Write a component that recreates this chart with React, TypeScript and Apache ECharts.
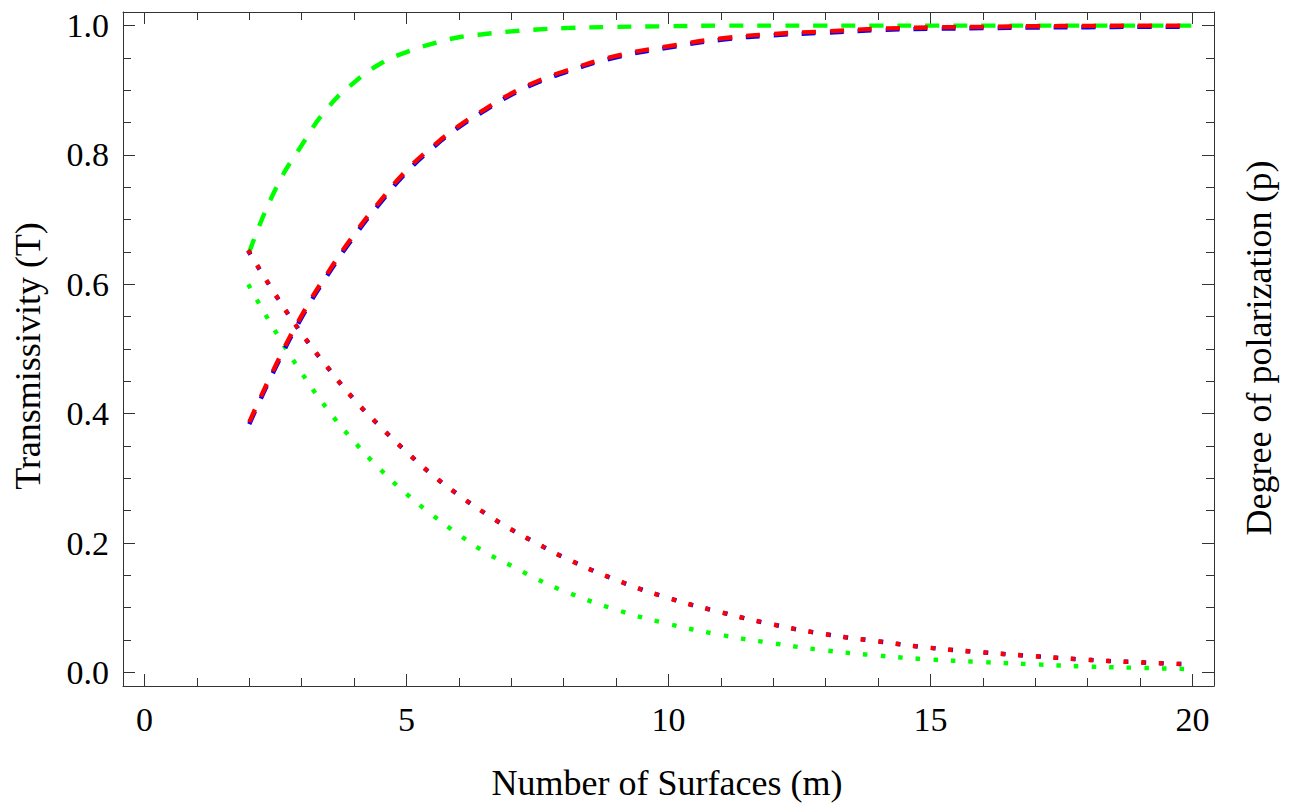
import React, { useEffect, useRef } from 'react';
import * as echarts from 'echarts';

// Number of surfaces m (x values)
const mValues = [2, 2.5, 3, 3.5, 4, 4.5, 5, 5.5, 6, 6.5, 7, 7.5, 8, 9, 10, 11, 12, 13, 14, 15, 16, 17, 18, 19, 20];

// Degree of polarization (dashed curves)
const greenP = [0.650, 0.747, 0.815, 0.873, 0.912, 0.941, 0.959, 0.972, 0.982, 0.987, 0.991, 0.994, 0.996, 0.998, 0.999, 1.0, 1.0, 1.0, 1.0, 1.0, 1.0, 1.0, 1.0, 1.0, 1.0];
const blueP = [0.384, 0.471, 0.549, 0.615, 0.674, 0.726, 0.773, 0.811, 0.843, 0.869, 0.893, 0.912, 0.927, 0.951, 0.966, 0.978, 0.985, 0.989, 0.993, 0.995, 0.996, 0.997, 0.9975, 0.998, 0.998];
const redP = [0.387, 0.474, 0.552, 0.618, 0.677, 0.729, 0.776, 0.813, 0.845, 0.871, 0.895, 0.914, 0.929, 0.953, 0.968, 0.980, 0.987, 0.991, 0.995, 0.997, 0.998, 0.999, 0.9995, 1.0, 1.0];

// Transmissivity (dotted curves)
const greenT = [0.597, 0.527, 0.463, 0.406, 0.357, 0.314, 0.276, 0.243, 0.213, 0.186, 0.165, 0.144, 0.126, 0.097, 0.075, 0.058, 0.045, 0.034, 0.026, 0.020, 0.016, 0.0124, 0.009, 0.007, 0.005];
const blueT = [0.649, 0.584, 0.524, 0.471, 0.422, 0.380, 0.341, 0.305, 0.274, 0.246, 0.221, 0.199, 0.178, 0.143, 0.115, 0.093, 0.074, 0.059, 0.048, 0.038, 0.031, 0.025, 0.0195, 0.0155, 0.0124];
const redT = [0.650, 0.584, 0.524, 0.471, 0.422, 0.380, 0.341, 0.305, 0.274, 0.246, 0.221, 0.199, 0.178, 0.143, 0.115, 0.093, 0.074, 0.059, 0.048, 0.038, 0.031, 0.025, 0.0195, 0.0155, 0.0124];

// Ticks
const xMajorTicks = [0, 5, 10, 15, 20];
const xMinorTicks = [1, 2, 3, 4, 6, 7, 8, 9, 11, 12, 13, 14, 16, 17, 18, 19];
const yMajorTicks = [0, 0.2, 0.4, 0.6, 0.8, 1.0];
const yMinorTicks = [0.05, 0.1, 0.15, 0.25, 0.3, 0.35, 0.45, 0.5, 0.55, 0.65, 0.7, 0.75, 0.85, 0.9, 0.95];

const xLabel = 'Number of Surfaces (m)';
const yLabelLeft = 'Transmissivity (T)';
const yLabelRight = 'Degree of polarization (p)';

const FONT = 'Liberation Serif';
const FRAME = '#333';

export default function App() {
  const ref = useRef<HTMLDivElement>(null);

  useEffect(() => {
    document.body.style.margin = '0';
    if (!ref.current) return;
    const chart = echarts.init(ref.current, undefined, { renderer: 'svg' });

    const X_MIN = -0.41, X_MAX = 20.41;
    const Y_MIN = -0.021, Y_MAX = 1.021;

    const xAxisBase = (position: 'top' | 'bottom', ticks: number[], len: number, showLine: boolean, labels: boolean) => ({
      type: 'value',
      position,
      min: X_MIN,
      max: X_MAX,
      axisLine: { show: showLine, onZero: false, lineStyle: { color: FRAME, width: 1 } },
      axisTick: { show: true, inside: true, length: len, customValues: ticks, lineStyle: { color: FRAME, width: 1 } },
      axisLabel: labels
        ? { show: true, customValues: ticks, margin: 16, fontFamily: FONT, fontSize: 34, color: '#000', formatter: (v: number) => String(Math.round(v)) }
        : { show: false },
      splitLine: { show: false },
    });

    const yAxisBase = (position: 'left' | 'right', ticks: number[], len: number, showLine: boolean, labels: boolean) => ({
      type: 'value',
      position,
      min: Y_MIN,
      max: Y_MAX,
      axisLine: { show: showLine, onZero: false, lineStyle: { color: FRAME, width: 1 } },
      axisTick: { show: true, inside: true, length: len, customValues: ticks, lineStyle: { color: FRAME, width: 1 } },
      axisLabel: labels
        ? { show: true, customValues: ticks, margin: 14, fontFamily: FONT, fontSize: 34, color: '#000', formatter: (v: number) => v.toFixed(1) }
        : { show: false },
      splitLine: { show: false },
    });

    const mk = (name: string, vals: number[], color: string, dotted: boolean) => ({
      name,
      type: 'line',
      xAxisIndex: 0,
      yAxisIndex: 0,
      data: mValues.map((m, i) => [m, vals[i]]),
      showSymbol: false,
      symbol: 'none',
      smooth: 0.5,
      silent: true,
      lineStyle: dotted
        ? { color, width: 4.4, type: [0.1, 17.5], cap: 'square' }
        : { color, width: 4.4, type: [14, 14], cap: 'butt' },
    });

    const titleStyle = (text: string) => ({
      text,
      font: `36px ${FONT}`,
      fill: '#000',
      textAlign: 'center',
      textVerticalAlign: 'middle',
    });

    chart.setOption({
      animation: false,
      backgroundColor: '#fff',
      grid: { left: 123, right: 78, top: 12, bottom: 117, containLabel: false },
      xAxis: [
        xAxisBase('bottom', xMajorTicks, 12, true, true),
        xAxisBase('bottom', xMinorTicks, 8, false, false),
        xAxisBase('top', xMajorTicks, 12, true, false),
        xAxisBase('top', xMinorTicks, 8, false, false),
      ],
      yAxis: [
        yAxisBase('left', yMajorTicks, 12, true, true),
        yAxisBase('left', yMinorTicks, 8, false, false),
        yAxisBase('right', yMajorTicks, 12, true, false),
        yAxisBase('right', yMinorTicks, 8, false, false),
      ],
      graphic: [
        { type: 'text', x: 667, y: 783, silent: true, style: titleStyle(xLabel) },
        { type: 'text', x: 28, y: 356, rotation: Math.PI / 2, silent: true, style: titleStyle(yLabelLeft) },
        { type: 'text', x: 1259, y: 348, rotation: Math.PI / 2, silent: true, style: titleStyle(yLabelRight) },
      ],
      series: [
        mk('green p', greenP, '#00ff00', false),
        mk('green T', greenT, '#00ff00', true),
        mk('blue p', blueP, '#0000ff', false),
        mk('blue T', blueT, '#0000ff', true),
        mk('red p', redP, '#ff0000', false),
        mk('red T', redT, '#ff0000', true),
      ],
    });

    return () => chart.dispose();
  }, []);

  return <div ref={ref} style={{ width: 1292, height: 803 }} />;
}
